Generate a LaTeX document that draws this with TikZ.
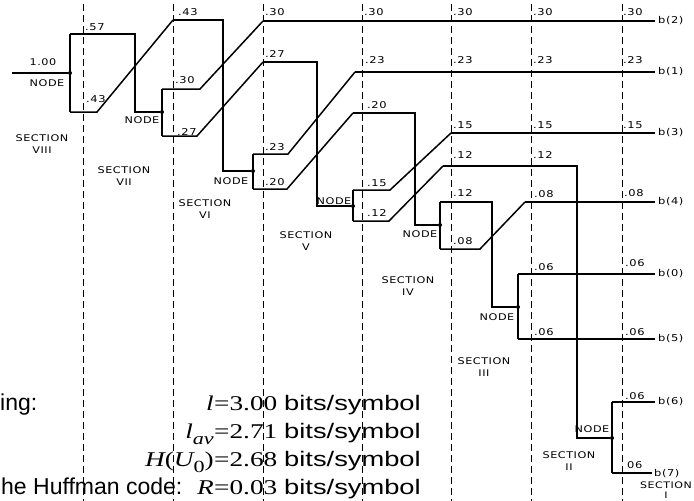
\documentclass[tikz,border=0pt]{standalone}
\usepackage{fontspec}
\setmainfont{Liberation Serif}
\newfontfamily\lblfont[FakeStretch=1.22,LetterSpace=6]{DejaVu Sans}
\newfontfamily\sansb{Liberation Sans}
\newfontfamily\sansw[FakeStretch=1.3]{Liberation Sans}
\newfontfamily\serifw[FakeStretch=1.3]{Liberation Serif}
\begin{document}
\begin{tikzpicture}[x=1pt,y=-1pt,
  wire/.style={line width=1.5pt},
  sect/.style={dash pattern=on 7pt off 4pt, line width=0.9pt},
  val/.style={font=\lblfont\fontsize{9.4}{9.4}\selectfont, anchor=west, inner sep=0pt},
  lbl/.style={font=\lblfont\fontsize{9.2}{9.2}\selectfont, inner sep=0pt},
  outl/.style={font=\lblfont\fontsize{9.4}{9.4}\selectfont, anchor=west, inner sep=0pt},
  dot/.style={circle, fill, inner sep=0pt, minimum size=4pt},
  secl/.style={font=\lblfont\fontsize{9.2}{12}\selectfont, align=center, inner sep=0pt},
  btxt/.style={font=\sansb\fontsize{23}{23}\selectfont, inner sep=0pt},
  mtxt/.style={font=\serifw\fontsize{21}{21}\selectfont, inner sep=0pt},
  ]
\useasboundingbox (0,0) rectangle (694,501);

% section boundaries
\foreach \x in {83,173,263,362,451,531,622} \draw[sect] (\x,4) -- (\x,501);

% junction nodes
\node[dot] (n8) at (70,73) {};
\node[dot] (n7) at (162,112) {};
\node[dot] (n6) at (253,171) {};
\node[dot] (n5) at (353,206) {};
\node[dot] (n4) at (440,225) {};
\node[dot] (n3) at (518,307) {};
\node[dot] (n2) at (612,438) {};

% coordinates
\coordinate (in) at (12,73);
\coordinate (u8) at (70,34);  \coordinate (l8) at (70,112);
\coordinate (u7) at (162,89); \coordinate (l7) at (162,136);
\coordinate (u6) at (253,154); \coordinate (l6) at (253,189);
\coordinate (u5) at (353,190); \coordinate (l5) at (353,221);
\coordinate (u4) at (440,202); \coordinate (l4) at (440,249);
\coordinate (u3) at (518,274); \coordinate (l3) at (518,339);
\coordinate (u2) at (612,402); \coordinate (l2) at (612,473);
\coordinate (t43) at (173,20);
\coordinate (t30) at (263,21);
\coordinate (t27) at (263,62);
\coordinate (t23) at (355,72);
\coordinate (t20) at (353,113);
\coordinate (t15) at (451,133);
\coordinate (t12) at (443,166);
\coordinate (t08) at (525,202);
\coordinate (o2) at (655,21);
\coordinate (o1) at (655,72);
\coordinate (o3) at (655,133);
\coordinate (o4) at (655,202);
\coordinate (o0) at (655,274);
\coordinate (o5) at (655,339);
\coordinate (o6) at (655,402);
\coordinate (o7) at (652,473);

% section VIII
\draw[wire] (in) -- (n8);
\draw[wire] (u8) -- (l8);
\draw[wire] (u8) -- (135,34) |- (n7);
\draw[wire] (l8) -- (97,112) -- (t43);
% section VII
\draw[wire] (u7) -- (l7);
\draw[wire] (u7) -- (200,89) -- (t30);
\draw[wire] (l7) -- (197,136) -- (t27);
\draw[wire] (t43) -- (223,20) |- (n6);
% section VI
\draw[wire] (u6) -- (l6);
\draw[wire] (u6) -- (288,154) -- (t23);
\draw[wire] (l6) -- (287,189) -- (t20);
\draw[wire] (t30) -- (o2);
\draw[wire] (t27) -- (317,62) |- (n5);
% section V
\draw[wire] (u5) -- (l5);
\draw[wire] (u5) -- (390,190) -- (t15);
\draw[wire] (l5) -- (389,221) -- (t12);
\draw[wire] (t23) -- (o1);
\draw[wire] (t20) -- (415,113) |- (n4);
% section IV
\draw[wire] (u4) -- (l4);
\draw[wire] (u4) -- (492,202) |- (n3);
\draw[wire] (l4) -- (480,249) -- (t08);
\draw[wire] (t15) -- (o3);
\draw[wire] (t12) -- (577,166) |- (n2);
% section III
\draw[wire] (u3) -- (l3);
\draw[wire] (u3) -- (o0);
\draw[wire] (l3) -- (o5);
\draw[wire] (t08) -- (o4);
% section II
\draw[wire] (u2) -- (l2);
\draw[wire] (u2) -- (o6);
\draw[wire] (l2) -- (o7);

% output labels
\node[outl] (b2) at (658,21) {b(2)};
\node[outl] (b1) at (658,72) {b(1)};
\node[outl] (b3) at (658,133) {b(3)};
\node[outl] (b4) at (658,202) {b(4)};
\node[outl] (b0) at (658,274) {b(0)};
\node[outl] (b5) at (658,339) {b(5)};
\node[outl] (b6) at (658,402) {b(6)};
\node[outl] (b7) at (654,474) {b(7)};

% value labels
\node[lbl] (v100) at (43,62) {1.00};
\node[val] (v57) at (85,27) {.57};
\node[val] (v43a) at (86,99) {.43};
\node[val] (v43b) at (178,12) {.43};
\node[val] (v30a) at (175,80) {.30};
\node[val] (v27a) at (177,132) {.27};
\node[val] (v30b) at (265,12) {.30};
\node[val] (v27b) at (265,54) {.27};
\node[val] (v23a) at (265,147) {.23};
\node[val] (v20a) at (265,182) {.20};
\node[val] (v30c) at (364,12) {.30};
\node[val] (v23b) at (365,60) {.23};
\node[val] (v20b) at (367,105) {.20};
\node[val] (v15a) at (367,183) {.15};
\node[val] (v12a) at (367,213) {.12};
\node[val] (v30d) at (453,12) {.30};
\node[val] (v23c) at (453,60) {.23};
\node[val] (v15b) at (453,125) {.15};
\node[val] (v12b) at (453,155) {.12};
\node[val] (v12c) at (453,193) {.12};
\node[val] (v08a) at (453,241) {.08};
\node[val] (v30e) at (533,12) {.30};
\node[val] (v23d) at (533,60) {.23};
\node[val] (v15c) at (533,125) {.15};
\node[val] (v12d) at (533,155) {.12};
\node[val] (v08b) at (534,194) {.08};
\node[val] (v06a) at (534,267) {.06};
\node[val] (v06b) at (534,332) {.06};
\node[val] (v30f) at (623,12) {.30};
\node[val] (v23e) at (623,60) {.23};
\node[val] (v15d) at (623,125) {.15};
\node[val] (v08c) at (624,193) {.08};
\node[val] (v06c) at (625,263) {.06};
\node[val] (v06d) at (625,332) {.06};
\node[val] (v06e) at (625,396) {.06};
\node[val] (v06f) at (627,465) {06};

% NODE labels
\node[lbl] (k8) at (47,83) {NODE};
\node[lbl] (k7) at (142,120) {NODE};
\node[lbl] (k6) at (231,181) {NODE};
\node[lbl] (k5) at (334,201) {NODE};
\node[lbl] (k4) at (420,234) {NODE};
\node[lbl] (k3) at (497,317) {NODE};
\node[lbl] (k2) at (592,429) {NODE};

% section labels
\node[secl] (s8) at (42,144) {SECTION\\VIII};
\node[secl] (s7) at (124,176) {SECTION\\VII};
\node[secl] (s6) at (205,209) {SECTION\\VI};
\node[secl] (s5) at (306,241) {SECTION\\V};
\node[secl] (s4) at (408,286) {SECTION\\IV};
\node[secl] (s3) at (484,367) {SECTION\\III};
\node[secl] (s2) at (569,461) {SECTION\\II};
\node[secl, font=\lblfont\fontsize{9}{9.5}\selectfont] (s1) at (666,490) {SECTION\\I};

% bottom text
\node[btxt, anchor=base west] (t1) at (0,410) {ing:};
\node[mtxt, anchor=base east] (e1) at (214,410) {\itshape l};
\node[mtxt, anchor=base west] (r1) at (214,410) {=3.00 \sansw bits/symbol};
\node[mtxt, anchor=base east] (e2) at (214,438) {\itshape l\raisebox{-0.3em}{\fontsize{17}{17}\selectfont av}};
\node[mtxt, anchor=base west] (r2) at (214,438) {=2.71 \sansw bits/symbol};
\node[mtxt, anchor=base east] (e3) at (214,466) {\itshape H\upshape(\itshape U\upshape\raisebox{-0.3em}{\fontsize{17}{17}\selectfont 0})};
\node[mtxt, anchor=base west] (r3) at (214,466) {=2.68 \sansw bits/symbol};
\node[btxt, anchor=base west] (t4) at (1,494) {he Huffman code:};
\node[mtxt, anchor=base east] (e4) at (214,494) {\itshape R};
\node[mtxt, anchor=base west] (r4) at (214,494) {=0.03 \sansw bits/symbol};
\end{tikzpicture}
\end{document}
